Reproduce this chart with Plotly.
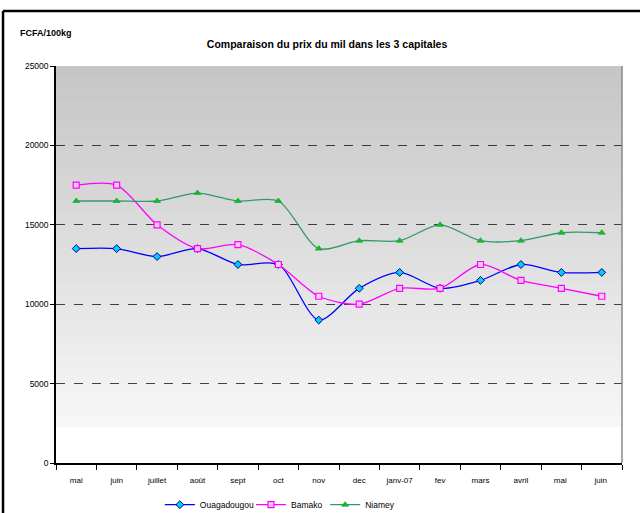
import plotly.graph_objects as go

months = ["mai", "juin", "juillet", "août", "sept", "oct", "nov", "dec",
          "janv-07", "fev", "mars", "avril", "mai ", "juin "]
ouagadougou = [13500, 13500, 13000, 13500, 12500, 12500, 9000, 11000,
               12000, 11000, 11500, 12500, 12000, 12000]
bamako = [17500, 17500, 15000, 13500, 13750, 12500, 10500, 10000,
          11000, 11000, 12500, 11500, 11000, 10500]
niamey = [16500, 16500, 16500, 17000, 16500, 16500, 13500, 14000,
          14000, 15000, 14000, 14000, 14500, 14500]
y_ticks = [0, 5000, 10000, 15000, 20000, 25000]

FONT = "Liberation Sans, Arial, sans-serif"

fig = go.Figure()
fig.add_trace(go.Scatter(
    x=months, y=ouagadougou, name="Ouagadougou", mode="lines+markers",
    legend="legend",
    line=dict(color="#0000ff", width=1.3, shape="spline", smoothing=0.8),
    marker=dict(symbol="diamond", size=6, color="#00ccff",
                line=dict(color="#000080", width=1))))
fig.add_trace(go.Scatter(
    x=months, y=bamako, name="Bamako", mode="lines+markers",
    legend="legend2",
    line=dict(color="#ff00ff", width=1.3, shape="spline", smoothing=0.8),
    marker=dict(symbol="square", size=6, color="#ffccff",
                line=dict(color="#ff00ff", width=1.2))))
fig.add_trace(go.Scatter(
    x=months, y=niamey, name="Niamey", mode="lines+markers",
    legend="legend3",
    line=dict(color="#339966", width=1.3, shape="spline", smoothing=0.8),
    marker=dict(symbol="triangle-up", size=6, color="#00cc00",
                line=dict(color="#339966", width=0.8))))

# background gradient bands (styling only)
shapes = []
n = 30
y0p, y1p = 2250 / 25000, 1.0
for i in range(n):
    a = y0p + (y1p - y0p) * i / n
    b = y0p + (y1p - y0p) * (i + 1) / n + 0.006
    t = (i + 0.5) / n
    g = int(round(247 - (247 - 197) * t))
    shapes.append(dict(type="rect", xref="paper", yref="paper", x0=0, x1=1,
                       y0=a, y1=min(b, 1.0), fillcolor=f"rgb({g},{g},{g})",
                       line=dict(width=0), layer="below"))
# outer frame
shapes.append(dict(type="line", xref="paper", yref="paper",
                   x0=-0.0936, x1=1.05, y0=1.1385, y1=1.1385,
                   line=dict(color="black", width=2.5)))
shapes.append(dict(type="line", xref="paper", yref="paper",
                   x0=-0.0936, x1=-0.0936, y0=-0.15, y1=1.1385,
                   line=dict(color="black", width=2.5)))
# plot right border
shapes.append(dict(type="line", xref="paper", yref="paper",
                   x0=1, x1=1, y0=0, y1=1,
                   line=dict(color="#888888", width=1.5)))

leg_common = dict(orientation="h", xanchor="left", y=-0.105, yanchor="middle",
                  font=dict(family=FONT, size=8.5), itemwidth=30,
                  bgcolor="rgba(0,0,0,0)")

fig.update_layout(
    width=640, height=513,
    margin=dict(l=56, r=18, t=66, b=50, autoexpand=False),
    paper_bgcolor="white", plot_bgcolor="white",
    font=dict(family=FONT, size=9, color="black"),
    title=dict(text="<b>Comparaison du prix du mil dans les 3 capitales</b>",
               x=0.511, xanchor="center", y=0.913, yanchor="middle",
               font=dict(family=FONT, size=10.5, color="black")),
    shapes=shapes,
    showlegend=True,
    legend=dict(x=0.1835, **leg_common),
    legend2=dict(x=0.3445, **leg_common),
    legend3=dict(x=0.4755, **leg_common),
    annotations=[dict(text="<b>FCFA/100kg</b>", xref="paper", yref="paper",
                      x=-0.0671, y=1.083, xanchor="left", yanchor="middle",
                      showarrow=False, font=dict(family=FONT, size=9))],
)
fig.update_xaxes(
    type="category", range=[-0.5, 13.5], showgrid=False,
    showline=True, linecolor="black", linewidth=1.5,
    ticks="outside", ticklen=5, tickcolor="black", tickson="boundaries",
    ticklabelstandoff=9,
    tickfont=dict(family=FONT, size=8), fixedrange=True)
fig.update_yaxes(
    range=[0, 25000], tickvals=y_ticks, ticktext=[str(v) for v in y_ticks],
    showgrid=True, gridcolor="rgba(0,0,0,0.72)", griddash="dash", gridwidth=1,
    showline=True, linecolor="black", linewidth=1.5,
    ticks="outside", ticklen=4, tickcolor="black",
    tickfont=dict(family=FONT, size=8.5), zeroline=False, fixedrange=True)

fig.write_html("out.html", config={"displayModeBar": False},
               post_script="document.body.style.margin='0';")
